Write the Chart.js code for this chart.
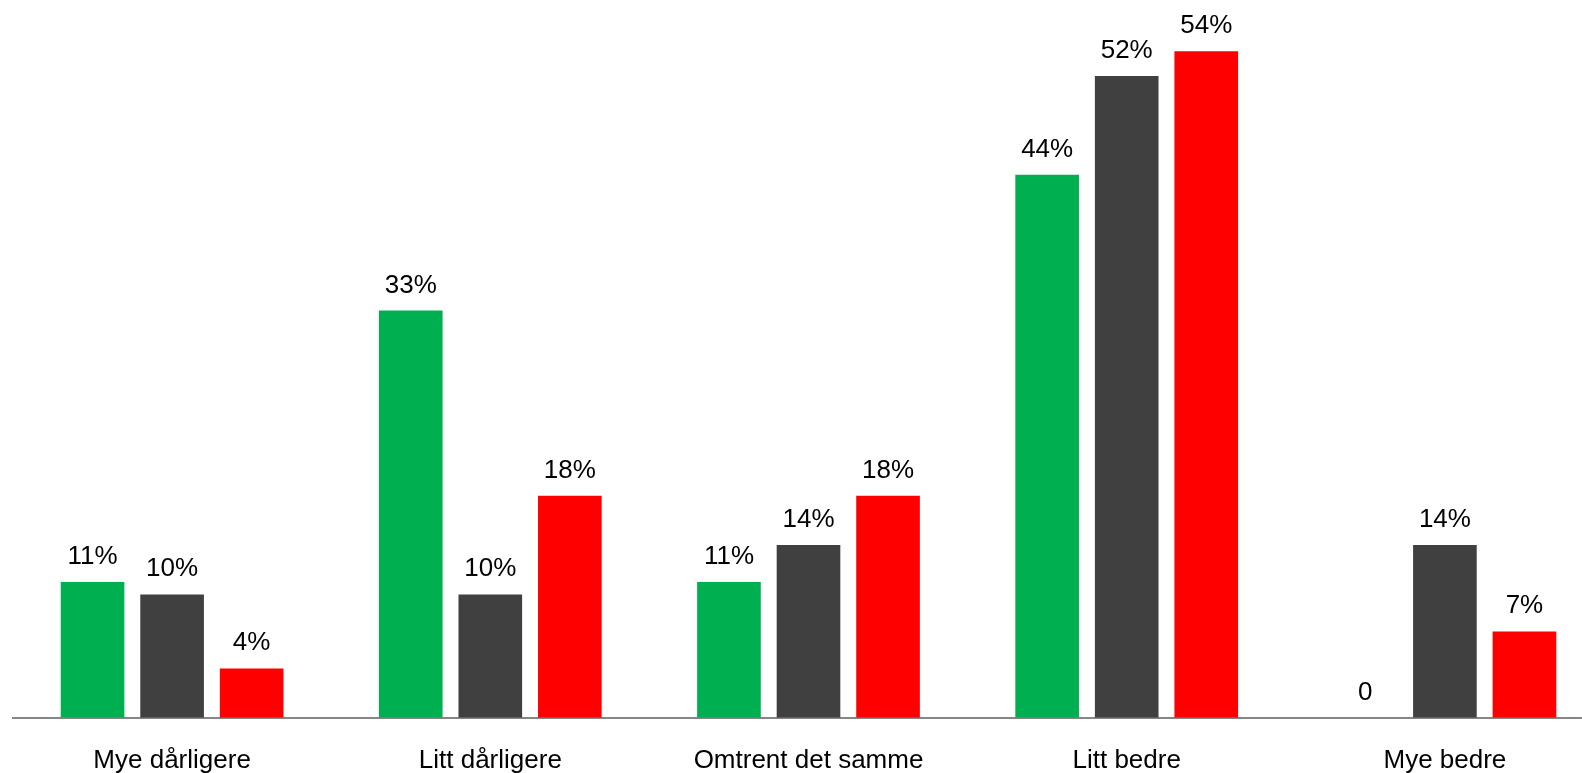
<!DOCTYPE html>
<html>
<head>
<meta charset="utf-8">
<script src="https://cdn.jsdelivr.net/npm/chart.js@4/dist/chart.umd.min.js"></script>
<style>
  html, body { margin: 0; padding: 0; background: #fff; overflow: hidden; }
  #wrap { width: 1604px; height: 803px; }
</style>
</head>
<body>
<div id="wrap"><canvas id="chart" width="1604" height="803"></canvas></div>
<script>
// Chart data
const CATEGORIES = ['Mye dårligere', 'Litt dårligere', 'Omtrent det samme', 'Litt bedre', 'Mye bedre'];
const SERIES_A = [11, 33, 11, 44, 0];
const SERIES_B = [10, 10, 14, 52, 14];
const SERIES_C = [4, 18, 18, 54, 7];

const FONT = "'Liberation Sans', Arial, sans-serif";

// Draws the value above every bar
const valueLabels = {
  id: 'valueLabels',
  afterDatasetsDraw(chart) {
    const ctx = chart.ctx;
    ctx.save();
    ctx.font = '26px ' + FONT;
    ctx.fillStyle = '#000';
    ctx.textAlign = 'center';
    ctx.textBaseline = 'alphabetic';
    chart.data.datasets.forEach((ds, i) => {
      chart.getDatasetMeta(i).data.forEach((bar, j) => {
        const v = ds.data[j];
        const text = v === 0 ? '0' : v + '%';
        ctx.fillText(text, bar.x, bar.y - 18);
      });
    });
    ctx.restore();
  }
};

new Chart(document.getElementById('chart'), {
  type: 'bar',
  data: {
    labels: CATEGORIES,
    datasets: [
      { label: 'A', data: SERIES_A, backgroundColor: '#00B050' },
      { label: 'B', data: SERIES_B, backgroundColor: '#404040' },
      { label: 'C', data: SERIES_C, backgroundColor: '#FF0000' }
    ]
  },
  options: {
    responsive: false,
    animation: false,
    categoryPercentage: 0.75,
    barPercentage: 0.8,
    layout: { padding: { left: 13, right: 0, top: 2, bottom: 0 } },
    plugins: { legend: { display: false }, tooltip: { enabled: false } },
    scales: {
      x: {
        grid: { display: false, drawTicks: false },
        border: { display: true, color: '#868686', width: 2 },
        ticks: { color: '#000', font: { family: FONT, size: 26 }, padding: 27, maxRotation: 0, autoSkip: false }
      },
      y: {
        display: false,
        min: 0,
        max: 58
      }
    }
  },
  plugins: [valueLabels]
});
</script>
</body>
</html>
